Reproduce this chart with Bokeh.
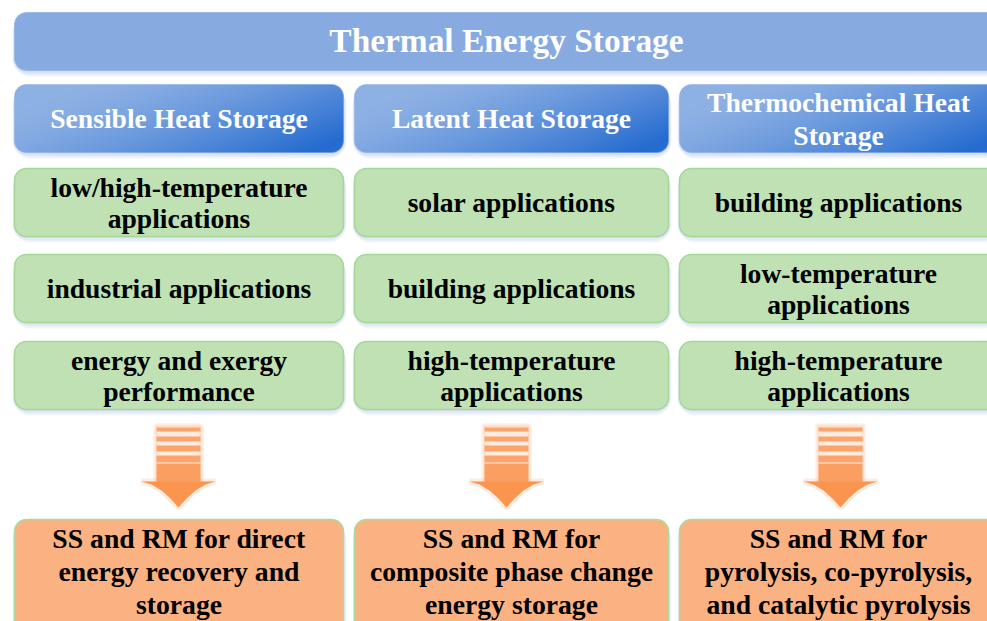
import numpy as np
from bokeh.plotting import figure
from bokeh.models import Range1d
from bokeh.embed import file_html
from bokeh.resources import INLINE
from bokeh.core.properties import value

# ---------------- content ----------------
title = "Thermal Energy Storage"
categories = ["Sensible Heat Storage", "Latent Heat Storage", "Thermochemical Heat\nStorage"]
apps_sensible = ["low/high-temperature\napplications", "industrial applications", "energy and exergy\nperformance"]
apps_latent = ["solar applications", "building applications", "high-temperature\napplications"]
apps_thermo = ["building applications", "low-temperature\napplications", "high-temperature\napplications"]
outcomes = ["SS and RM for direct\nenergy recovery and\nstorage",
            "SS and RM for\ncomposite phase change\nenergy storage",
            "SS and RM for\npyrolysis, co-pyrolysis,\nand catalytic pyrolysis"]
applications = [apps_sensible, apps_latent, apps_thermo]

# ---------------- layout (picture pixel coordinates) ----------------
W, H = 987, 621
def Y(y):
    return 621 - y

col_left = [14, 354, 679]
col_right = [343, 668, 997]
header_box = (14, 999, 12, 70)
blue_row = (84, 152)
green_rows = [(168, 236), (254, 322), (341, 409)]
orange_row = (519, 640)
arrow_cx = [178, 506, 840]
RADIUS = 12
FONT = value("'Liberation Serif', 'Times New Roman', Tinos, 'DejaVu Serif', serif")

p = figure(width=W, height=H, output_backend="svg", toolbar_location=None,
           x_range=Range1d(0, W), y_range=Range1d(0, H), min_border=0)
p.axis.visible = False
p.grid.visible = False
p.outline_line_color = None
p.background_fill_color = "white"


def shadow(l, r, t, b, color, alpha=0.10, steps=(2, 4, 6)):
    for s in steps:
        p.quad(left=[l - s / 3], right=[r + s / 2], top=[Y(t + s / 2)], bottom=[Y(b + s)],
               fill_color=color, fill_alpha=alpha, line_color=None, border_radius=RADIUS + s)


def rounded_mask(w, h, r):
    xs = np.arange(w) + 0.5
    ys = np.arange(h) + 0.5
    X, Yy = np.meshgrid(xs, ys)
    cx = np.clip(X, r, w - r)
    cy = np.clip(Yy, r, h - r)
    d = np.sqrt((X - cx) ** 2 + (Yy - cy) ** 2)
    return np.clip(r - d + 0.5, 0, 1), X / w, Yy / h


def gradient_box(l, r, t, b, light, dark):
    w, h = int(round(r - l)), int(round(b - t))
    a, u, v = rounded_mask(w, h, RADIUS)
    tt = np.clip(0.85 * u + 0.45 * v - 0.2, 0, 1) ** 1.4
    rgb = [(1 - tt) * light[k] + tt * dark[k] for k in range(3)]
    img = np.zeros((h, w), dtype=np.uint32)
    view = img.view(dtype=np.uint8).reshape((h, w, 4))
    for k in range(3):
        view[:, :, k] = np.clip(rgb[k], 0, 255).astype(np.uint8)
    view[:, :, 3] = (a * 255).astype(np.uint8)
    img = np.flipud(img)
    p.image_rgba(image=[img], x=l, y=Y(b), dw=w, dh=h)


def label(text, cx, cy, size, color, spacing):
    lines = text.split("\n")
    n = len(lines)
    ys = [cy + (i - (n - 1) / 2) * spacing for i in range(n)]
    p.text(x=[cx] * n, y=[Y(y) for y in ys], text=lines, text_font=FONT,
           text_font_style="bold", text_font_size=f"{size}px", text_color=color,
           text_align="center", text_baseline="middle")


# header
l, r, t, b = header_box
shadow(l, r, t, b, "#5f86d6", 0.10)
p.quad(left=[l], right=[r], top=[Y(t)], bottom=[Y(b)], fill_color="#87aae1",
       line_color="#9ab8e6", line_width=1, border_radius=RADIUS)
label(title, 506, 40, 33.4, "white", 33)

# category boxes
for i, cat in enumerate(categories):
    l, r = col_left[i], col_right[i]
    t, b = blue_row
    shadow(l, r, t, b, "#5f86d6", 0.10)
    p.quad(left=[l], right=[r], top=[Y(t)], bottom=[Y(b)], fill_color="#8cafe3",
           line_color=None, border_radius=RADIUS)
    gradient_box(l, r, t, b, (142, 177, 228), (38, 108, 208))
    label(cat, (l + r) / 2, (t + b) / 2, 27.6, "white", 33)

# application boxes
for i in range(3):
    for j, (t, b) in enumerate(green_rows):
        l, r = col_left[i], col_right[i]
        shadow(l, r, t, b, "#6e82e0", 0.09)
        p.quad(left=[l], right=[r], top=[Y(t)], bottom=[Y(b)], fill_color="#bfe1b3",
               line_color="#a3d897", line_width=1.5, border_radius=RADIUS)
        label(applications[i][j], (l + r) / 2, (t + b) / 2, 27.6, "black", 31)

# arrows
stripes = [(427, 431), (436, 441), (445, 451), (455, 462)]
for cx in arrow_cx:
    hw, sw = 37, 22
    head_x = [cx - hw, cx - 27, cx - 17, cx - 8, cx, cx + 8, cx + 17, cx + 27, cx + hw]
    head_y = [481, 484, 490, 498, 507, 498, 490, 484, 481]
    # glow
    p.quad(left=[cx - sw - 1], right=[cx + sw + 1], top=[Y(425)], bottom=[Y(482)],
           fill_color="#fbb488", fill_alpha=0.25, line_color="#fbb488", line_alpha=0.25, line_width=4)
    p.patch(x=head_x, y=[Y(v) for v in head_y], fill_color="#fbb488", fill_alpha=0.25,
            line_color="#fbb488", line_alpha=0.25, line_width=6)
    for (st, sb) in stripes:
        p.quad(left=[cx - sw], right=[cx + sw], top=[Y(st)], bottom=[Y(sb)],
               fill_color="#fca46b", line_color=None)
    p.quad(left=[cx - sw], right=[cx + sw], top=[Y(463)], bottom=[Y(482)],
           fill_color="#fb9e62", line_color=None)
    p.patch(x=head_x, y=[Y(v) for v in head_y], fill_color="#f9954f", line_color=None)

# outcome boxes
for i, txt in enumerate(outcomes):
    l, r = col_left[i], col_right[i]
    t, b = orange_row
    shadow(l, r, t, b, "#6e82e0", 0.08)
    p.quad(left=[l], right=[r], top=[Y(t)], bottom=[Y(b)], fill_color="#fbb282",
           line_color="#a9db9c", line_width=1.5, border_radius=RADIUS)
    label(txt, (l + r) / 2, 571, 27.7, "black", 33)

open("out.html", "w").write(file_html(p, INLINE))
